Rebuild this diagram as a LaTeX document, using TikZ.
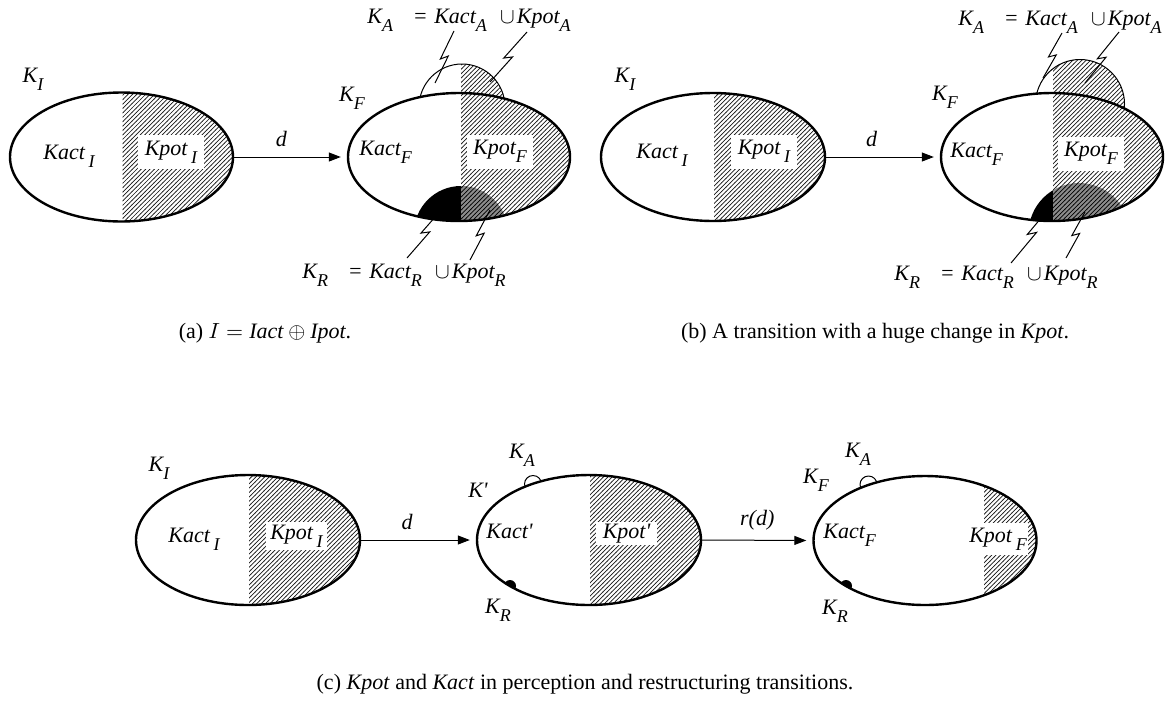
\documentclass[tikz,border=0pt]{standalone}
\usepackage{fontspec}
\setmainfont{Liberation Serif}
\usepackage{tikz}
\usetikzlibrary{arrows.meta,calc,patterns,shapes.geometric}
\newcommand{\ksub}[2]{\textit{#1}\raisebox{-0.8ex}{\fontsize{9}{10}\selectfont\textit{#2}}}
\newcommand{\kunion}[1]{\ksub{K}{#1}\hspace{0.9em}=\hspace{0.3em}\ksub{Kact}{#1}\hspace{0.6em}$\cup$\hspace{0.1em}\ksub{Kpot}{#1}}
% fine hatching
\pgfdeclarepatternformonly{finelines}{\pgfqpoint{-1pt}{-1pt}}{\pgfqpoint{3.2pt}{3.2pt}}{\pgfqpoint{2.2pt}{2.2pt}}{%
  \pgfsetlinewidth{0.35pt}
  \pgfpathmoveto{\pgfqpoint{-0.1pt}{-0.1pt}}
  \pgfpathlineto{\pgfqpoint{2.3pt}{2.3pt}}
  \pgfusepath{stroke}}
% white ellipse, hatched right of the split
\newcommand{\kbody}[5]{%
  \fill[white] (#1,#2) ellipse [x radius=#3, y radius=#4];
  \begin{scope}
    \clip (#1,#2) ellipse [x radius=#3, y radius=#4];
    \fill[hatch] (#5,#2-#4) rectangle (#1+#3,#2+#4);
  \end{scope}}
% bump on top of an ellipse
\newcommand{\kbump}[4]{%
  \fill[white] (#1,#2) circle [radius=#3];
  \begin{scope}
    \clip (#1,#2) circle [radius=#3];
    \fill[hatch] (#4,#2-#3) rectangle (#1+#3,#2+#3);
  \end{scope}
  \draw[bumpline] (#1,#2) circle [radius=#3];}
% removed part inside an ellipse
\newcommand{\kdrop}[8]{%
  \begin{scope}
    \clip (#1,#2) ellipse [x radius=#3, y radius=#4];
    \clip (#5,#6) circle [radius=#7];
    \fill[black] (#5-#7,#6-#7) rectangle (#8,#6+#7);
    \fill[darkhatch] (#8,#6-#7) rectangle (#5+#7,#6+#7);
  \end{scope}}
\newcommand{\zap}[2]{%
  \draw[zap] (#1) -- ($(#1)!.56!(#2)!1.6pt!-90:(#2)$) -- ($(#1)!.46!(#2)!1.6pt!90:(#2)$) -- (#2);}
\tikzset{
  kset/.style={ellipse,draw=black,line width=1.2pt,inner sep=0pt},
  hatch/.style={pattern=finelines,pattern color=black!90},
  darkhatch/.style={fill=black!45,postaction={pattern=finelines,pattern color=black}},
  bumpline/.style={draw=black,line width=0.5pt},
  arrow/.style={-{Triangle[length=6pt,width=4.5pt]},line width=0.5pt,shorten >=3pt},
  zap/.style={line width=0.5pt},
  lab/.style={inner sep=0pt,font=\itshape},
  potbox/.style={fill=white,inner sep=0pt,font=\itshape,minimum height=17pt},
  caption/.style={inner sep=0pt}
}
\begin{document}
\fontsize{11}{13}\selectfont
\begin{tikzpicture}[x=0.5pt,y=-0.5pt]
  \useasboundingbox (0,0) rectangle (1170,702);

  % (a)
  \kbody{121.5}{157}{111.5}{64.5}{122.5}
  \node[kset,minimum width=111.5pt,minimum height=64.5pt] (aI) at (121.5,157) {};
  \kbump{462}{107}{43}{461}
  \kbody{459}{157}{111}{64}{461}
  \kdrop{459}{157}{111}{64}{461}{233}{47}{461}
  \node[kset,minimum width=111pt,minimum height=64pt] (aF) at (459,157) {};

  \node[lab] (aKI) at (33,79) {\ksub{K}{I}};
  \node[lab,anchor=base west] (aKactI) at (43,159) {\ksub{Kact\,}{I}};
  \node[potbox,minimum width=33pt] (aKpotI) at (171,152) {\ksub{Kpot\,}{I}};
  \node[lab] (aKF) at (352,98) {\ksub{K}{F}};
  \node[lab,anchor=base west] (aKactF) at (359,155) {\ksub{Kact}{F}};
  \node[potbox,minimum width=33pt] (aKpotF) at (500,151.5) {\ksub{Kpot}{F}};
  \draw[arrow] (aI.east) -- (aF.west) node[lab,pos=.42,above=5pt] (ad) {d};

  \node[lab,anchor=base west] (aKA) at (367,23) {\kunion{A}};
  \node[lab,anchor=base west] (aKR) at (302,278) {\kunion{R}};
  \coordinate (aA1) at (454,31); \coordinate (aA2) at (435,83);
  \coordinate (aA3) at (527,32); \coordinate (aA4) at (490,82);
  \coordinate (aR1) at (407,258); \coordinate (aR2) at (443,208);
  \coordinate (aR3) at (470,260); \coordinate (aR4) at (490,210);
  \zap{aA1}{aA2} \zap{aA3}{aA4} \zap{aR1}{aR2} \zap{aR3}{aR4}
  \node[caption,anchor=base] (capa) at (265,338)
    {(a) $I = \textit{Iact} \oplus \textit{Ipot}$.};

  % (b)
  \kbody{713}{157}{112}{64}{714}
  \node[kset,minimum width=112pt,minimum height=64pt] (bI) at (713,157) {};
  \kbump{1080}{104}{44.5}{1053}
  \kbody{1052}{157}{111}{64}{1053}
  \kdrop{1052}{157}{111}{64}{1079}{233.5}{50.5}{1053}
  \node[kset,minimum width=111pt,minimum height=64pt] (bF) at (1052,157) {};

  \node[lab] (bKI) at (625,79) {\ksub{K}{I}};
  \node[lab,anchor=base west] (bKactI) at (636,158) {\ksub{Kact\,}{I}};
  \node[potbox,minimum width=33pt] (bKpotI) at (764,151.5) {\ksub{Kpot\,}{I}};
  \node[lab] (bKF) at (945,97) {\ksub{K}{F}};
  \node[lab,anchor=base west] (bKactF) at (950,157) {\ksub{Kact}{F}};
  \node[potbox,minimum width=33pt] (bKpotF) at (1091,153.5) {\ksub{Kpot}{F}};
  \draw[arrow] (bI.east) -- (bF.west) node[lab,pos=.4,above=5pt] (bd) {d};

  \node[lab,anchor=base west] (bKA) at (958,25) {\kunion{A}};
  \node[lab,anchor=base west] (bKR) at (894,280) {\kunion{R}};
  \coordinate (bA1) at (1062,33); \coordinate (bA2) at (1043,78);
  \coordinate (bA3) at (1119,32); \coordinate (bA4) at (1085,83);
  \coordinate (bR1) at (1011,263); \coordinate (bR2) at (1052,205);
  \coordinate (bR3) at (1066,258); \coordinate (bR4) at (1085,212);
  \zap{bA1}{bA2} \zap{bA3}{bA4} \zap{bR1}{bR2} \zap{bR3}{bR4}
  \node[caption,anchor=base] (capb) at (875,338)
    {(b) A transition with a huge change in \textit{Kpot}.};

  % (c)
  \kbody{248}{540}{112}{65}{249}
  \node[kset,minimum width=112pt,minimum height=65pt] (cI) at (248,540) {};
  \draw[bumpline,fill=white] (533,484) circle [radius=8.5];
  \kbody{589}{540}{112}{65}{590}
  \begin{scope}
    \clip (589,540) ellipse [x radius=112, y radius=65];
    \fill (510,586) circle [radius=6];
  \end{scope}
  \node[kset,minimum width=112pt,minimum height=65pt] (cM) at (589,540) {};
  \draw[bumpline,fill=white] (868.5,484.5) circle [radius=8.5];
  \kbody{925}{540.5}{111.5}{64.5}{984}
  \begin{scope}
    \clip (925,540.5) ellipse [x radius=111.5, y radius=64.5];
    \fill (846,586) circle [radius=6];
  \end{scope}
  \node[kset,minimum width=111.5pt,minimum height=64.5pt] (cF) at (925,540.5) {};

  \node[lab] (cKI) at (159,468) {\ksub{K}{I}};
  \node[lab,anchor=base west] (cKactI) at (168,542) {\ksub{Kact\,}{I}};
  \node[potbox,minimum width=30.5pt,minimum height=14pt] (cKpotI) at (296.5,536) {\ksub{Kpot\,}{I}};
  \draw[arrow] (cI.east) -- (cM.west) node[lab,pos=.4,above=5pt] (cd) {d};

  \node[lab] (cKp) at (478,490) {K\textquotesingle};
  \node[lab] (cKA1) at (522,455) {\ksub{K}{A}};
  \node[lab] (cKR1) at (498,610) {\ksub{K}{R}};
  \node[lab,anchor=base west] (cKactp) at (486,538) {Kact\textquotesingle};
  \node[potbox,minimum width=30.5pt,minimum height=11.5pt] (cKpotp) at (626.5,533.5) {Kpot\textquotesingle};
  \draw[arrow] (cM.east) -- (cF.west) node[lab,midway,above=5pt] (crd) {r(d)};

  \node[lab] (cKF) at (816,480) {\ksub{K}{F}};
  \node[lab] (cKA2) at (858,454) {\ksub{K}{A}};
  \node[lab] (cKR2) at (835,611) {\ksub{K}{R}};
  \node[lab,anchor=base west] (cKactF) at (823,538) {\ksub{Kact}{F}};
  \node[potbox,minimum width=30pt,minimum height=16pt] (cKpotF) at (998,539) {\ksub{Kpot\,}{F}};
  \node[caption,anchor=base] (capc) at (585,689)
    {(c) \textit{Kpot} and \textit{Kact} in perception and restructuring transitions.};
\end{tikzpicture}
\end{document}
